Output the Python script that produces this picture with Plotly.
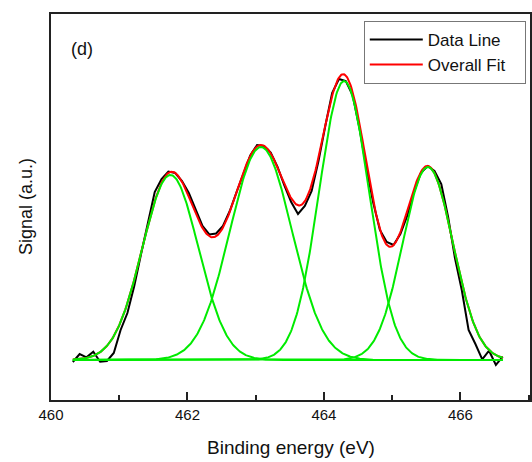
import numpy as np
import plotly.graph_objects as go

# Measured spectrum (binding energy in eV, signal in a.u.)
energy = [460.32, 460.42, 460.52, 460.62, 460.72, 460.82, 460.92, 461.02,
          461.12, 461.22, 461.32, 461.42, 461.52, 461.62, 461.72, 461.82,
          461.92, 462.02, 462.12, 462.22, 462.32, 462.42, 462.52, 462.62,
          462.72, 462.82, 462.92, 463.02, 463.12, 463.22, 463.32, 463.42,
          463.52, 463.62, 463.72, 463.82, 463.92, 464.02, 464.12, 464.22,
          464.32, 464.42, 464.52, 464.62, 464.72, 464.82, 464.92, 465.02,
          465.12, 465.22, 465.32, 465.42, 465.52, 465.62, 465.72, 465.82,
          465.92, 466.02, 466.12, 466.22, 466.32, 466.42, 466.52, 466.62]
signal = [-20, 60, 27, 83, -17, -10, 70, 300,
          470, 740, 1060, 1360, 1680, 1810, 1885, 1870,
          1790, 1670, 1500, 1340, 1255, 1265, 1340, 1490,
          1680, 1870, 2045, 2150, 2140, 2075, 1930, 1745,
          1580, 1460, 1540, 1690, 1990, 2340, 2670, 2810,
          2790, 2650, 2320, 1930, 1580, 1300, 1180, 1150,
          1260, 1440, 1680, 1870, 1940, 1890, 1760, 1430,
          1020, 700, 300, 160, 7, 93, -50, 33]

# Fitted Gaussian components: centre (eV), height (a.u.), sigma (eV)
peak_centers = [461.75, 463.077, 464.296, 465.523]
peak_heights = [1850, 2130, 2790, 1930]
peak_sigmas = [0.41, 0.455, 0.365, 0.368]

x_fit = np.linspace(energy[0], energy[-1], 600)
components = [h * np.exp(-((x_fit - c) ** 2) / (2 * s ** 2))
              for c, h, s in zip(peak_centers, peak_heights, peak_sigmas)]
overall = np.sum(components, axis=0)

fig = go.Figure()
fig.add_trace(go.Scatter(x=energy, y=signal, mode="lines", name="Data Line",
                         line=dict(color="#000000", width=2)))
fig.add_trace(go.Scatter(x=x_fit, y=overall, mode="lines",
                         name="Overall Fit\u00a0\u00a0\u00a0",
                         line=dict(color="#ff0000", width=2)))
for comp in components:
    fig.add_trace(go.Scatter(x=x_fit, y=comp, mode="lines", showlegend=False,
                             hoverinfo="skip",
                             line=dict(color="rgb(0,235,0)", width=2)))

axis_col = "#222222"
fig.update_layout(
    width=532, height=462,
    margin=dict(l=51, r=0, t=14, b=62),
    paper_bgcolor="white", plot_bgcolor="white",
    font=dict(family="Liberation Sans, Arial, sans-serif", size=15, color="#111111"),
    legend=dict(x=0.653, y=0.982, xanchor="left", yanchor="top",
                bgcolor="white", bordercolor="#777777", borderwidth=1,
                itemwidth=53, font=dict(size=17)),
    xaxis=dict(range=[460, 467.02], showline=True, linecolor=axis_col, linewidth=1.5,
               mirror=True, ticks="inside", ticklen=8, tickwidth=1.5, tickcolor=axis_col,
               tick0=460, dtick=2, showgrid=False, zeroline=False,
               minor=dict(dtick=1, ticks="inside", ticklen=5, tickwidth=1.5,
                          tickcolor=axis_col, showgrid=False),
               tickfont=dict(size=15)),
    yaxis=dict(range=[-400, 3460], showline=True, linecolor=axis_col, linewidth=1.5,
               mirror=True, ticks="", showticklabels=False, showgrid=False,
               zeroline=False),
    annotations=[
        dict(text="Binding energy (eV)", xref="paper", yref="paper", x=0.5, y=-0.1218,
             showarrow=False, xanchor="center", yanchor="middle", font=dict(size=19)),
        dict(text="Signal (a.u.)", xref="paper", yref="paper", x=-0.052, y=0.5,
             textangle=-90, showarrow=False, xanchor="center", yanchor="middle",
             font=dict(size=18)),
        dict(text="(d)", xref="paper", yref="paper", x=0.0655, y=0.909,
             showarrow=False, xanchor="center", yanchor="middle", font=dict(size=18)),
    ],
)

fig.write_html("out.html")
